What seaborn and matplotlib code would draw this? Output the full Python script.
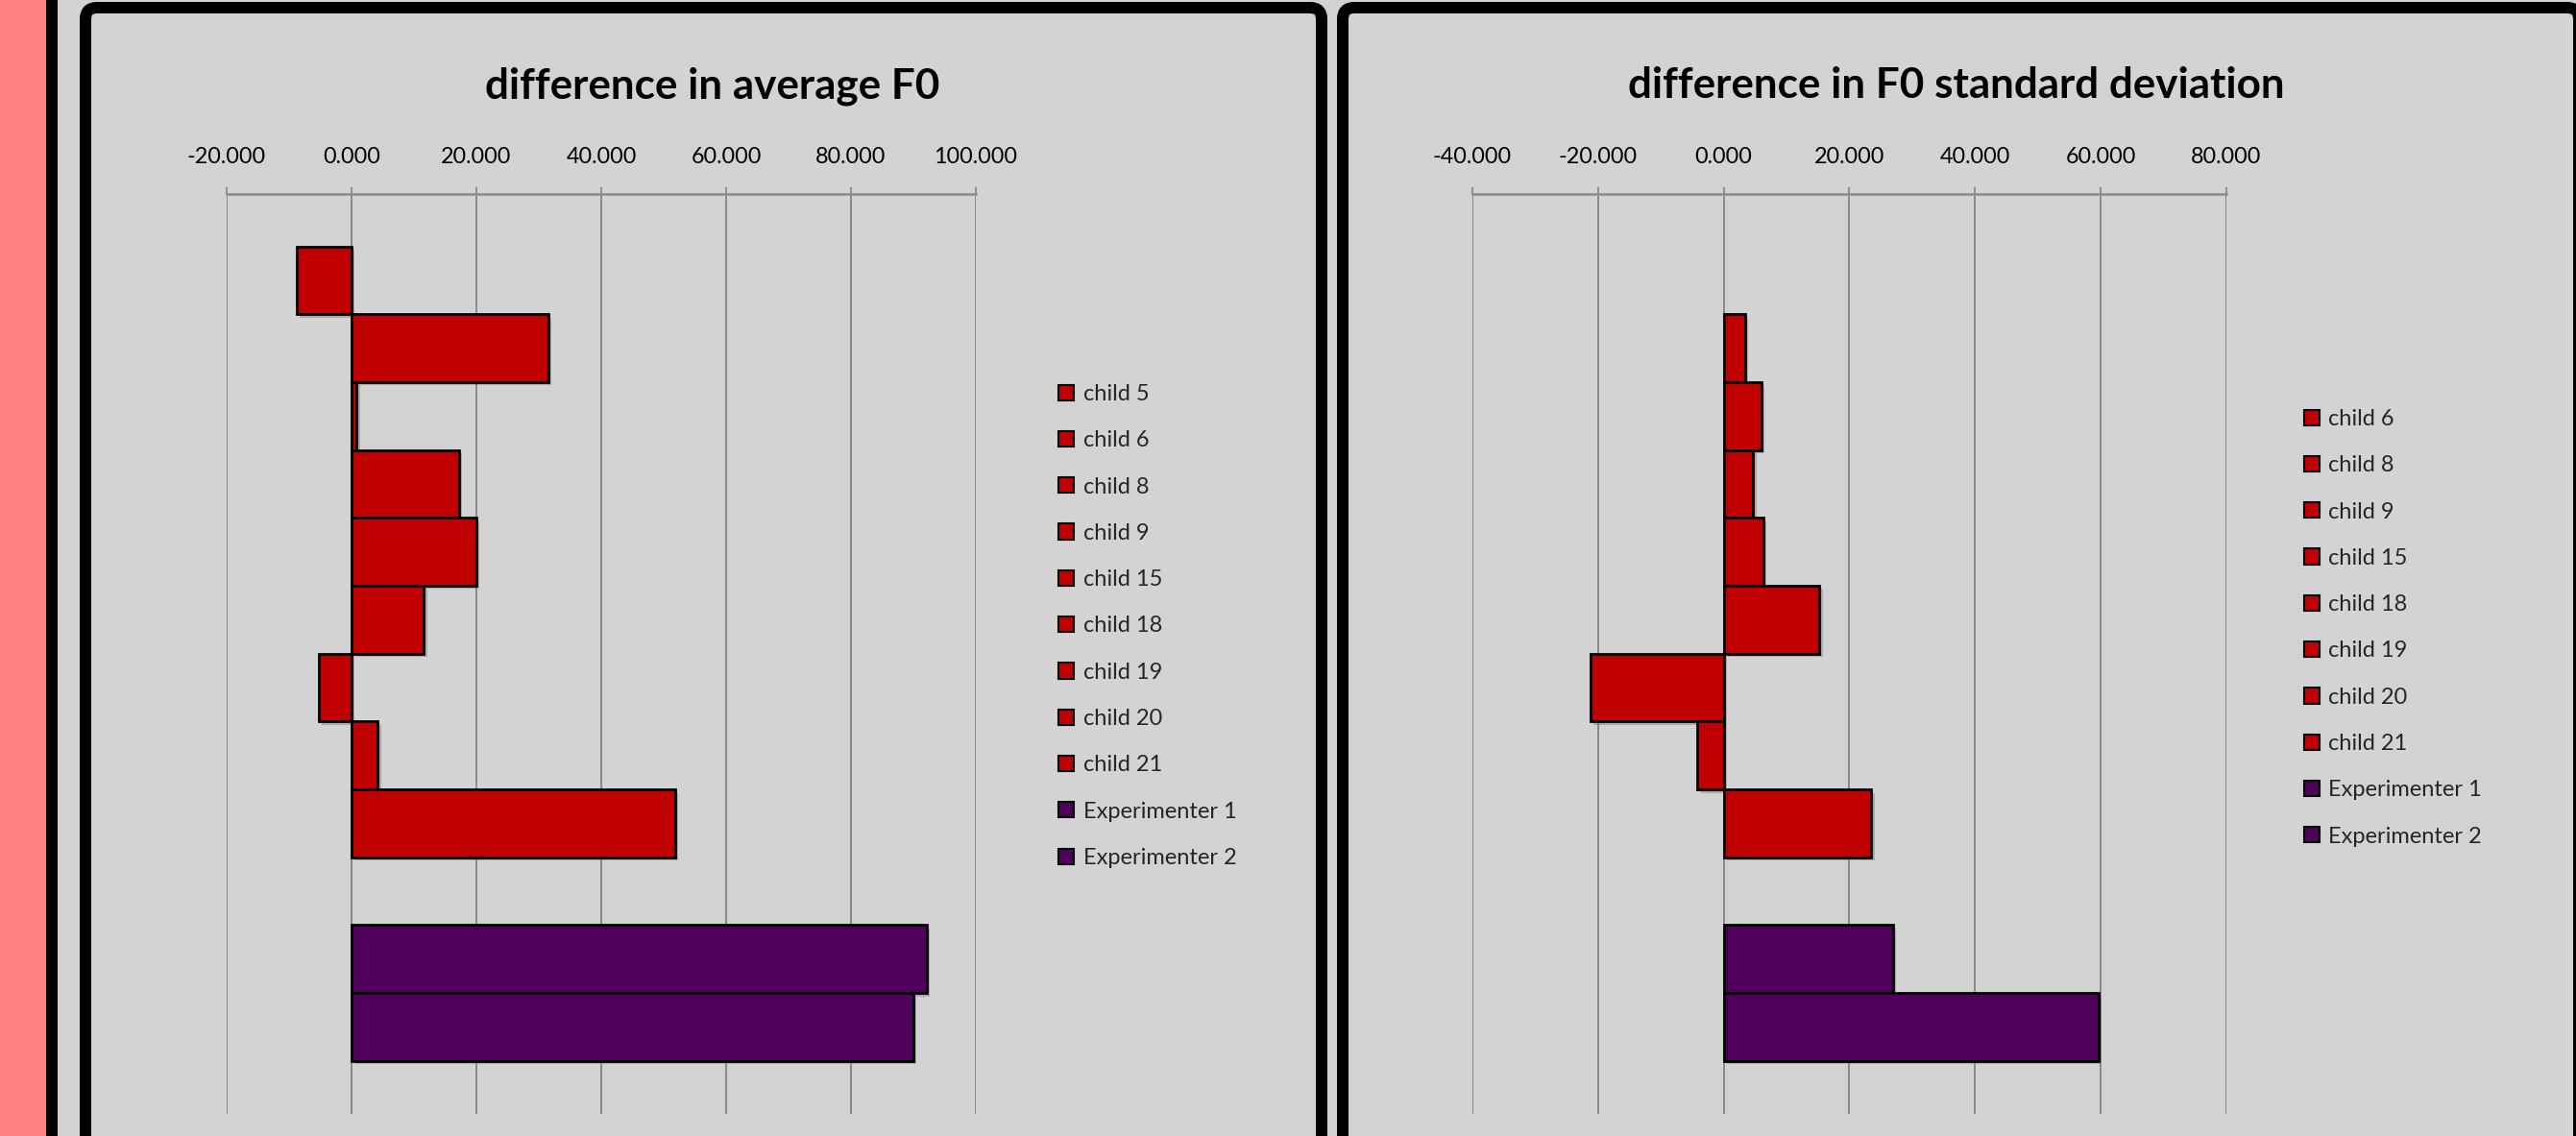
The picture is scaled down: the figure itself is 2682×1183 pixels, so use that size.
import matplotlib
matplotlib.use("Agg")
import matplotlib.pyplot as plt
import matplotlib.patheffects as pe
from matplotlib.patches import Rectangle, FancyBboxPatch, Patch
import numpy as np
import pandas as pd
import seaborn as sns

# ---- data -------------------------------------------------------------
slots = ["child 5", "child 6", "child 8", "child 9", "child 15", "child 18",
         "child 19", "child 20", "child 21", "spacer", "Experimenter 1", "Experimenter 2"]

avg_speakers = ["child 5", "child 6", "child 8", "child 9", "child 15", "child 18",
                "child 19", "child 20", "child 21", "Experimenter 1", "Experimenter 2"]
avg_diff = [-8.8, 31.5, 0.8, 17.2, 20.0, 11.6, -5.3, 4.2, 51.8, 92.1, 90.0]

sd_speakers = ["child 6", "child 8", "child 9", "child 15", "child 18",
               "child 19", "child 20", "child 21", "Experimenter 1", "Experimenter 2"]
sd_diff = [3.4, 6.0, 4.7, 6.3, 15.2, -21.2, -4.2, 23.5, 26.9, 59.6]

avg_ticks = [-20, 0, 20, 40, 60, 80, 100]
sd_ticks = [-40, -20, 0, 20, 40, 60, 80]

RED = "#C00000"
PURPLE = "#4F005A"
BG = "#D3D3D3"
GRID = "#8A8A8A"


def group_of(name):
    return "experimenter" if name.startswith("Experimenter") else "child"


palette = {"child": RED, "experimenter": PURPLE}

# ---- figure -----------------------------------------------------------
W, H = 2682, 1183
sns.set_theme(style="white")
plt.rcParams["font.family"] = ["Lato", "DejaVu Sans"]

fig = plt.figure(figsize=(W / 100, H / 100), dpi=100)
fig.patch.set_facecolor(BG)

# left page strip
fig.add_artist(Rectangle((0, 0), 48, H, transform=None, facecolor="#FF8080",
                         edgecolor="none", zorder=-10))
fig.add_artist(Rectangle((48, 0), 12, H, transform=None, facecolor="black",
                         edgecolor="none", zorder=-10))

# chart frames
for x0, x1 in [(89, 1376), (1398, 2685)]:
    fig.add_artist(FancyBboxPatch((x0, -100), x1 - x0, H - 8 + 100, transform=None,
                                  boxstyle="round,pad=0,rounding_size=12",
                                  facecolor=BG, edgecolor="black", linewidth=12 * 0.72,
                                  zorder=-5))


def px_rect(left, right, top, bottom):
    return [left / W, 1 - bottom / H, (right - left) / W, (bottom - top) / H]


def draw_panel(rect, speakers, values, ticks, xlim, title, title_x,
               legend_x, legend_top):
    ax = fig.add_axes(rect)
    ax.set_zorder(1)
    ax.patch.set_visible(False)
    df = pd.DataFrame({"speaker": speakers, "value": values,
                       "group": [group_of(s) for s in speakers]})
    sns.barplot(data=df, x="value", y="speaker", order=slots, hue="group",
                palette=palette, saturation=1, dodge=False, width=1.0, orient="h",
                edgecolor="black", linewidth=2.0, legend=False, ax=ax, zorder=3)
    for p in ax.patches:
        p.set_path_effects([pe.SimplePatchShadow(offset=(2.5, -2.5),
                                                 shadow_rgbFace="#606060", alpha=0.35),
                            pe.Normal()])
    ax.set_xlim(*xlim)
    ax.set_ylim(12.28, -1.272)
    ax.set_xticks(ticks)
    ax.set_xticklabels([f"{t:.3f}" for t in ticks])
    ax.xaxis.tick_top()
    ax.tick_params(axis="x", which="major", direction="out", length=5, width=1.3,
                   color=GRID, pad=15, labelsize=16.8, labelcolor="black",
                   top=True, bottom=False)
    ax.set_yticks([])
    ax.set_xlabel("")
    ax.set_ylabel("")
    for t in ticks:
        ax.axvline(t, color=GRID, lw=1.4, zorder=1)
    for side in ["left", "right", "bottom"]:
        ax.spines[side].set_visible(False)
    ax.spines["top"].set_color(GRID)
    ax.spines["top"].set_linewidth(1.8)

    fig.text(title_x / W, 1 - 102 / H, title, ha="center", va="baseline",
             fontsize=31.7, fontweight="bold", color="black")

    handles = [Patch(facecolor=palette[group_of(s)], edgecolor="black", linewidth=1.5)
               for s in speakers]
    ax.legend(handles, speakers, loc="upper left",
              bbox_to_anchor=(legend_x / W, 1 - legend_top / H),
              bbox_transform=fig.transFigure, frameon=False, fontsize=17,
              handlelength=0.68, handleheight=0.68, handletextpad=0.4,
              labelspacing=1.156, borderpad=0, borderaxespad=0)
    return ax


draw_panel(px_rect(236, 1016, 202, 1160), avg_speakers, avg_diff, avg_ticks,
           (-20, 100), "difference in average F0", 742, 1102, 400)
draw_panel(px_rect(1533, 2318, 202, 1160), sd_speakers, sd_diff, sd_ticks,
           (-40, 80), "difference in F0 standard deviation", 2037, 2399, 426)

fig.savefig("out.png", dpi=100, facecolor=BG)
